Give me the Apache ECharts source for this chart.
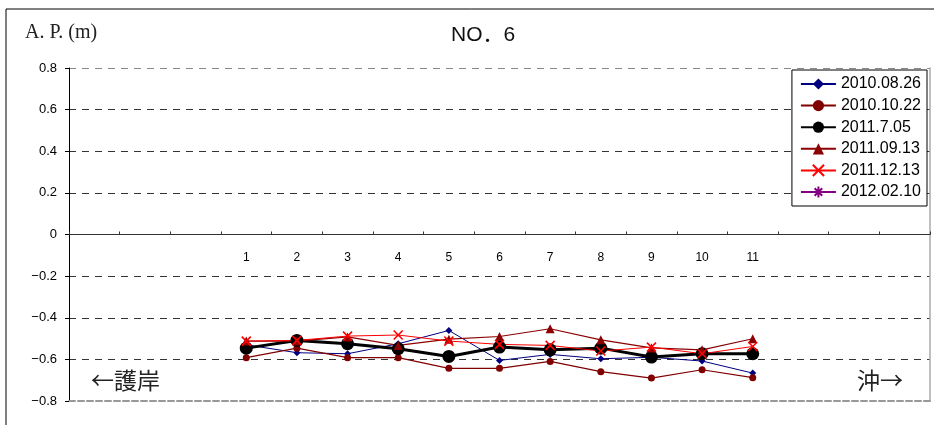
<!DOCTYPE html>
<html><head><meta charset="utf-8">
<script src="https://cdn.jsdelivr.net/npm/echarts@6/dist/echarts.min.js"></script>
<style>html,body{margin:0;padding:0;background:#fff}#c{width:934px;height:425px}</style>
</head><body><div id="c"></div>
<script>
// categories: 3 blank slots on each side of stations 1..11
const padBefore = 3, padAfter = 3;
const stations = ['1','2','3','4','5','6','7','8','9','10','11'];
const yTicks = [-0.8,-0.6,-0.4,-0.2,0,0.2,0.4,0.6,0.8];

const d20100826 = [-0.53,-0.568,-0.573,-0.525,-0.461,-0.605,-0.576,-0.597,-0.59,-0.608,-0.666];
const d20101022 = [-0.592,-0.546,-0.592,-0.592,-0.643,-0.643,-0.61,-0.659,-0.69,-0.65,-0.688];
const d20110705 = [-0.546,-0.509,-0.525,-0.549,-0.586,-0.541,-0.554,-0.546,-0.589,-0.573,-0.573];
const d20110913 = [-0.512,-0.512,-0.492,-0.533,-0.503,-0.49,-0.453,-0.506,-0.545,-0.554,-0.501];
const d20111213 = [-0.512,-0.509,-0.488,-0.483,-0.512,-0.528,-0.533,-0.56,-0.541,-0.573,-0.538];
const d20120210 = [];

const blanks = n => Array.from({length:n}, () => '');
const categories = blanks(padBefore).concat(stations, blanks(padAfter));
const pad = arr => Array(padBefore).fill(null).concat(
  stations.map((_, i) => (arr[i] === undefined ? null : arr[i])),
  Array(padAfter).fill(null));

const X_PATH = 'path://M0,0L10,10M0,10L10,0';
const STAR_PATH = 'path://M5,0L5,10M0,5L10,5M1.6,1.6L8.4,8.4M1.6,8.4L8.4,1.6';

function ser(name, data, color, symbol, size, width, stroke) {
  return {
    name, type: 'line', data: pad(data), symbol, symbolSize: size,
    connectNulls: false, animation: false,
    lineStyle: {color, width},
    itemStyle: stroke ? {color, borderColor: color, borderWidth: 1.6} : {color, borderWidth: 0}
  };
}

const GRID_TOP = 68, GRID_BOTTOM = 24, H = 425;
const gridH = H - GRID_TOP - GRID_BOTTOM;
const zeroOffset = -gridH * (0 - yTicks[0]) / (yTicks[yTicks.length - 1] - yTicks[0]);

const chart = echarts.init(document.getElementById('c'), null, {renderer: 'canvas'});
const gridColors = yTicks.map((v, i) => (i === 0) ? 'rgba(0,0,0,0)' : (i === yTicks.length - 1 ? '#888' : '#333'));

chart.setOption({
  animation: false,
  backgroundColor: '#fff',
  textStyle: {fontFamily: 'Liberation Sans, Arial, sans-serif'},
  grid: {left: 69, right: 4, top: GRID_TOP, bottom: GRID_BOTTOM, containLabel: false, outerBoundsMode: 'none'},
  graphic: [
    {type: 'rect', shape: {x: 6, y: 9, width: 1000, height: 1000}, style: {fill: 'none', stroke: '#000', lineWidth: 1}, z: -10},
    {type: 'text', left: 25, top: 23, style: {text: 'A. P. (m)', font: '20px "Liberation Serif", "DejaVu Serif", serif', fill: '#222'}},
    {type: 'text', left: 451, top: 25, style: {text: 'NO．6', font: '21px "Liberation Sans", "Noto Sans CJK JP", sans-serif', fill: '#111'}},
    {type: 'text', left: 91, top: 369, style: {text: '←護岸', font: '23px "Noto Sans CJK JP", sans-serif', fill: '#222'}},
    {type: 'text', left: 857, top: 369, style: {text: '沖→', font: '23px "Noto Sans CJK JP", sans-serif', fill: '#222'}}
  ],
  legend: {
    orient: 'vertical', right: 7, top: 70,
    backgroundColor: '#fff', borderColor: '#000', borderWidth: 1, borderRadius: 0,
    padding: [6, 6, 6, 8], itemWidth: 35, itemHeight: 14, itemGap: 5.6,
    textStyle: {fontSize: 16, color: '#000', fontFamily: 'Liberation Sans, Arial, sans-serif'},
    data: ['2010.08.26','2010.10.22','2011.7.05','2011.09.13','2011.12.13','2012.02.10']
  },
  xAxis: [{
    type: 'category', data: categories, boundaryGap: true, position: 'bottom', offset: zeroOffset,
    axisLine: {onZero: false, lineStyle: {color: '#333', width: 1}},
    axisTick: {show: true, inside: true, length: 3, interval: 0, lineStyle: {color: '#333'}},
    axisLabel: {interval: 0, margin: 17, fontSize: 12, color: '#000'},
    splitLine: {show: false}
  }, {
    type: 'category', data: categories, position: 'bottom',
    axisLine: {onZero: false, lineStyle: {color: '#999', width: 2, type: [6, 3]}},
    axisTick: {show: false}, axisLabel: {show: false}, splitLine: {show: false}
  }],
  yAxis: [{
    type: 'value', min: -0.8, max: 0.8, interval: 0.2,
    axisLine: {show: true, onZero: false, lineStyle: {color: '#000', width: 1}},
    axisTick: {show: true, length: 4, lineStyle: {color: '#000'}},
    axisLabel: {margin: 12, fontSize: 13, color: '#000',
      formatter: v => Math.abs(v) < 1e-9 ? '0' : (v < 0 ? '\u2212' : '') + Math.abs(v).toFixed(1)},
    splitLine: {show: true, lineStyle: {type: [7, 6], color: gridColors, width: 1}}
  }, {
    type: 'value', min: -0.8, max: 0.8, interval: 0.2, position: 'right',
    axisLine: {show: true, onZero: false, lineStyle: {color: '#aaa', width: 1.5}},
    axisTick: {show: false}, axisLabel: {show: false}, splitLine: {show: false}
  }],
  series: [
    ser('2010.08.26', d20100826, '#000080', 'diamond', 7, 1, false),
    ser('2010.10.22', d20101022, '#800000', 'circle', 7, 1.2, false),
    ser('2011.7.05', d20110705, '#000000', 'circle', 13, 3, false),
    ser('2011.09.13', d20110913, '#8B0000', 'triangle', 9, 1.2, false),
    ser('2011.12.13', d20111213, '#FF0000', X_PATH, 9, 1, true),
    ser('2012.02.10', d20120210, '#800080', STAR_PATH, 9, 1, true)
  ]
});
</script></body></html>
